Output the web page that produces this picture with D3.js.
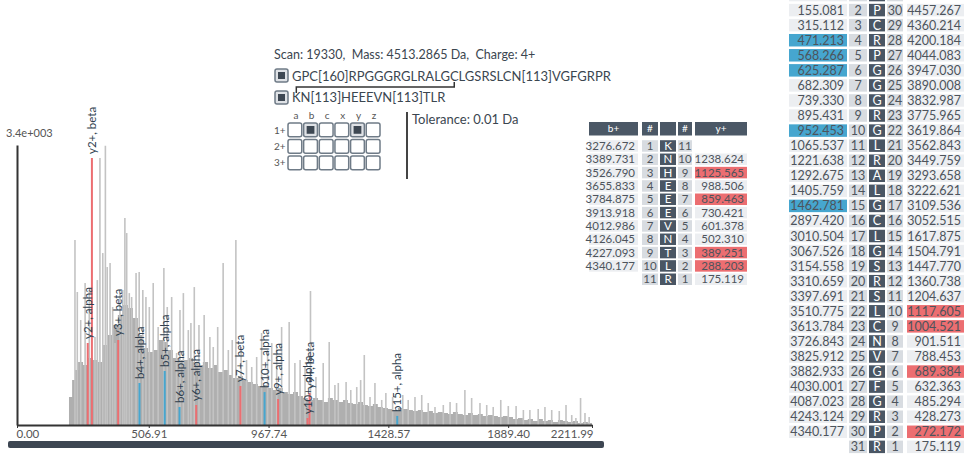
<!DOCTYPE html>
<html>
<head>
<meta charset="utf-8">
<script src="https://cdn.jsdelivr.net/npm/d3@7.9.0/dist/d3.min.js"></script>
<style>
  body { margin: 0; background: #fff; }
  svg text { font-family: Lato, "Open Sans", sans-serif; }
</style>
</head>
<body>
<svg id="chart" width="968" height="455"></svg>
<script>
// ---- spectrum data (m/z, intensity) ----
const xTickValues = [0, 506.91, 967.74, 1428.57, 1889.40, 2211.99];
const yMaxLabel = '3.4e+003';
const yMax = 3400;

// dense base of the spectrum
const envelope = [
  [200,340],[212,546],[223,667],[235,765],[254,728],[273,813],[292,789],[312,765],[331,971],[350,1093],
  [369,1214],[388,1335],[408,1457],[427,1420],[446,1299],[465,1093],[485,935],[504,886],[523,910],[542,1032],
  [562,1008],[581,910],[600,813],[619,789],[638,789],[658,813],[677,765],[696,728],[715,765],[735,692],
  [754,728],[773,643],[792,667],[812,607],[831,571],[850,595],[869,546],[888,522],[908,498],[927,473],
  [946,486],[965,449],[985,425],[1004,449],[1023,400],[1042,376],[1062,400],[1081,352],[1100,328],[1119,304],
  [1138,328],[1158,304],[1177,279],[1196,328],[1215,304],[1235,279],[1254,304],[1273,267],[1292,255],[1312,279],
  [1331,243],[1350,231],[1369,255],[1388,219],[1408,206],[1427,194],[1446,182],[1465,206],[1485,194],[1504,182],
  [1523,170],[1542,182],[1562,158],[1581,170],[1600,146],[1619,158],[1638,146],[1658,134],[1677,158],[1696,134],
  [1715,121],[1735,146],[1754,121],[1773,134],[1792,109],[1812,121],[1831,109],[1850,97],[1869,109],[1888,97],
  [1908,73],[1927,85],[1946,61],[1965,73],[1985,49],[2004,73],[2023,49],[2042,61],[2062,36],[2081,61],
  [2100,49],[2119,36],[2138,49],[2158,24],[2177,36],[2196,24],[2212,0]
];

// unassigned peaks standing out of the base
const peaks = [
  [223,2246],[232,1615],[245,1275],[262,1724],[278,1639],[300,1068],[309,1760],[319,3241],[330,2088],[340,3390],
  [347,1918],[358,1967],[368,1433],[377,995],[396,1602],[407,1639],[415,2513],[422,2331],[432,1602],[441,1554],
  [458,1845],[470,1857],[484,1639],[496,1554],[509,1433],[524,1724],[543,1190],[565,1906],[578,1433],[595,1554],
  [614,874],[627,1396],[640,1602],[659,1153],[669,1238],[682,1675],[700,1214],[720,1335],[742,1068],[755,947],
  [772,1190],[793,1967],[813,911],[828,1032],[842,2246],[862,947],[883,789],[903,704],[922,826],[941,1117],
  [964,911],[980,995],[999,947],[1018,1190],[1047,1250],[1069,753],[1089,789],[1108,704],[1129,1627],[1150,583],
  [1178,753],[1201,1008],[1223,486],[1236,510],[1266,522],[1284,425],[1307,461],[1322,546],[1336,850],[1358,340],
  [1377,510],[1403,304],[1419,388],[1445,340],[1484,364],[1505,304],[1531,340],[1557,364],[1582,267],[1608,219],
  [1640,243],[1666,279],[1691,267],[1723,425],[1749,328],[1781,267],[1807,243],[1832,219],[1861,304],[1890,231],
  [1920,231],[1948,182],[1973,182],[2005,194],[2031,219],[2057,182],[2086,170],[2112,243],[2134,121],[2150,85],
  [2168,328],[2185,146],[2201,97]
];

// matched fragment ions
const ionLabels = ['y2+, alpha','y2+, beta','y3+, beta','b4+, alpha','b5+, alpha','b6+, alpha','y6+, alpha',
                   'y7+, beta','b10+, alpha','y9+, alpha','y10+, alpha','y9+, beta','b15+, alpha'];
const ionMz  = [272.172, 288.203, 389.251, 471.213, 568.266, 625.287, 689.384, 859.463, 952.453, 1004.521, 1117.605, 1125.565, 1462.781];
const ionInt = [996, 3242, 1032, 510, 656, 219, 243, 474, 400, 316, 85, 389, 110];

// ---- header text ----
const scanInfo = 'Scan: 19330,  Mass: 4513.2865 Da,  Charge: 4+';
const alphaPeptide = 'GPC[160]RPGGGRGLRALGCLGSRSLCN[113]VGFGRPR';
const betaPeptide = 'KN[113]HEEEVN[113]TLR';
const ionTypes = ['a', 'b', 'c', 'x', 'y', 'z'];
const ionCharges = ['1+', '2+', '3+'];
const selectedIons = ['1+b', '1+y'];
const toleranceText = 'Tolerance: 0.01 Da';

// ---- fragment tables ----
const betaSeq = 'KNHEEEVNTLR'.split('');
const betaB = [3276.672, 3389.731, 3526.790, 3655.833, 3784.875, 3913.918, 4012.986, 4126.045, 4227.093, 4340.177, null];
const betaY = [null, 1238.624, 1125.565, 988.506, 859.463, 730.421, 601.378, 502.310, 389.251, 288.203, 175.119];
const betaBHits = [];
const betaYHits = [9, 7, 3, 2];

const alphaSeq = 'GPCRPGGGRGLRALGCLGSRSLCNVGFGRPR'.split('');
const alphaB = [58.029, 155.081, 315.112, 471.213, 568.266, 625.287, 682.309, 739.330, 895.431, 952.453,
                1065.537, 1221.638, 1292.675, 1405.759, 1462.781, 2897.420, 3010.504, 3067.526, 3154.558, 3310.659,
                3397.691, 3510.775, 3613.784, 3726.843, 3825.912, 3882.933, 4030.001, 4087.023, 4243.124, 4340.177, null];
const alphaY = [null, 4457.267, 4360.214, 4200.184, 4044.083, 3947.030, 3890.008, 3832.987, 3775.965, 3619.864,
                3562.843, 3449.759, 3293.658, 3222.621, 3109.536, 3052.515, 1617.875, 1504.791, 1447.770, 1360.738,
                1204.637, 1117.605, 1004.521, 901.511, 788.453, 689.384, 632.363, 485.294, 428.273, 272.172, 175.119];
const alphaBHits = [4, 5, 6, 10, 15];
const alphaYHits = [10, 9, 6, 2];

const svg = d3.select('#chart');
const textColor = '#3b4650';
const bColor = '#46a6cf';
const yColor = '#ec6e71';

// ================= spectrum =================
const x = d3.scaleLinear().domain([0, 2211.99]).range([17, 592]);
const y = d3.scaleLinear().domain([0, yMax]).range([425, 145]);

const spec = svg.append('g').attr('class', 'spectrum');

spec.append('path')
  .datum(envelope)
  .attr('fill', '#afafaf')
  .attr('d', d3.area().curve(d3.curveStepAfter)
    .x(d => x(d[0])).y0(y(0)).y1(d => y(d[1])));

spec.append('g')
  .selectAll('line')
  .data(peaks)
  .join('line')
  .attr('x1', d => x(d[0])).attr('x2', d => x(d[0]))
  .attr('y1', y(0)).attr('y2', d => y(d[1]))
  .attr('stroke', '#c3c3c3')
  .attr('stroke-width', 1.6);

const ions = ionLabels.map((label, i) => ({ label, mz: ionMz[i], int: ionInt[i] }));

spec.append('g')
  .selectAll('line')
  .data(ions)
  .join('line')
  .attr('x1', d => x(d.mz)).attr('x2', d => x(d.mz))
  .attr('y1', y(0)).attr('y2', d => y(d.int))
  .attr('stroke', d => d.label.startsWith('b') ? bColor : yColor)
  .attr('stroke-width', 2);

spec.append('g')
  .selectAll('text')
  .data(ions)
  .join('text')
  .attr('transform', d => `translate(${x(d.mz)},${y(d.int) - 4}) rotate(-90)`)
  .attr('dy', '0.35em')
  .attr('font-size', 11.5)
  .attr('fill', '#2e3e4e')
  .text(d => d.label);

// axes
const xAxis = spec.append('g')
  .attr('transform', `translate(0,${y(0)})`)
  .call(d3.axisBottom(x).tickValues(xTickValues).tickFormat(d3.format('.2f'))
    .tickSize(3).tickSizeOuter(0).tickPadding(2));
xAxis.select('.domain').attr('stroke', '#333').attr('stroke-width', 2);
xAxis.selectAll('.tick line').attr('stroke', '#333');
xAxis.selectAll('.tick text').attr('font-size', 11.5).attr('fill', '#555');
xAxis.selectAll('.tick text').filter((d, i) => i === 0).attr('text-anchor', 'start').attr('x', -1);
xAxis.selectAll('.tick text').filter((d, i) => i === xTickValues.length - 1).attr('text-anchor', 'end').attr('x', 1);

const yAxis = spec.append('g')
  .attr('transform', `translate(${x(0)},0)`)
  .call(d3.axisLeft(y).tickValues([]).tickSizeOuter(0));
yAxis.select('.domain').attr('stroke', '#333').attr('stroke-width', 2);

spec.append('text')
  .attr('x', 6).attr('y', 137)
  .attr('font-size', 11).attr('fill', '#555')
  .text(yMaxLabel);

// range slider bar under the spectrum
spec.append('rect')
  .attr('x', 8).attr('y', 441).attr('width', 596).attr('height', 7)
  .attr('rx', 2).attr('fill', '#3d4652');

// ================= header =================
const head = svg.append('g').attr('class', 'header').attr('fill', textColor);

head.append('text')
  .attr('x', 274).attr('y', 59)
  .attr('font-size', 12.5)
  .style('white-space', 'pre')
  .text(scanInfo);

function checkbox(g, x0, y0, size, checked) {
  g.append('rect')
    .attr('x', x0).attr('y', y0).attr('width', size).attr('height', size)
    .attr('rx', 2)
    .attr('fill', checked ? '#dfe2e6' : '#fff')
    .attr('stroke', '#6f7b87').attr('stroke-width', 1.5);
  if (checked) {
    g.append('rect')
      .attr('x', x0 + 3).attr('y', y0 + 3).attr('width', size - 6).attr('height', size - 6)
      .attr('fill', '#3e4853');
  }
}

checkbox(head, 275, 69, 13, true);
checkbox(head, 275, 91, 13, true);

const alphaText = head.append('text')
  .attr('x', 292).attr('y', 81)
  .attr('font-size', 13)
  .text(alphaPeptide);
const betaText = head.append('text')
  .attr('x', 292).attr('y', 102)
  .attr('font-size', 13)
  .text(betaPeptide);

// crosslink bracket: alpha C16 -> beta K1
const cIdx = alphaPeptide.indexOf('C', alphaPeptide.indexOf('LG'));
const cBox = alphaText.node().getExtentOfChar(cIdx);
const kBox = betaText.node().getExtentOfChar(0);
const cx = cBox.x + cBox.width / 2;
const kx = kBox.x + kBox.width / 2;
head.append('path')
  .attr('d', `M${kx},93 V87 H${cx} V82`)
  .attr('fill', 'none')
  .attr('stroke', '#333')
  .attr('stroke-width', 1.5);

// ion type grid
const gridX = d3.scaleBand().domain(ionTypes).range([288, 380]).paddingInner(0.12);
const gridY = d3.scaleBand().domain(ionCharges).range([123, 170]).paddingInner(0.15);
const grid = head.append('g');
grid.selectAll('text.col')
  .data(ionTypes)
  .join('text')
  .attr('class', 'col')
  .attr('x', d => gridX(d) + gridX.bandwidth() / 2 + 1)
  .attr('y', 119)
  .attr('text-anchor', 'middle')
  .attr('font-size', 10)
  .attr('fill', '#555')
  .text(d => d);
grid.selectAll('text.row')
  .data(ionCharges)
  .join('text')
  .attr('class', 'row')
  .attr('x', 274)
  .attr('y', d => gridY(d) + gridY.bandwidth() / 2 + 3.5)
  .attr('font-size', 10)
  .attr('fill', '#555')
  .text(d => d);
ionCharges.forEach(c => {
  ionTypes.forEach(t => {
    checkbox(grid, gridX(t), gridY(c), gridX.bandwidth(), selectedIons.includes(c + t));
  });
});

head.append('line')
  .attr('x1', 407).attr('x2', 407).attr('y1', 112).attr('y2', 179)
  .attr('stroke', '#444').attr('stroke-width', 2);

head.append('text')
  .attr('x', 412).attr('y', 124)
  .attr('font-size', 13)
  .text(toleranceText);

// ================= fragment tables =================
function drawTable(seq, bVals, yVals, bHits, yHits, L) {
  const n = seq.length;
  const g = svg.append('g').attr('font-size', L.font);
  const rowY = i => L.top + i * L.pitch;
  const fmt = d3.format('.3f');
  const cols = L.cols;

  if (L.header) {
    const hy = L.header;
    const labels = ['b+', '#', '', '#', 'y+'];
    ['b', 'n1', 'res', 'n2', 'y'].forEach((k, j) => {
      g.append('rect')
        .attr('x', cols[k][0]).attr('y', hy).attr('width', cols[k][1] - cols[k][0]).attr('height', L.cellH + 2)
        .attr('fill', '#4b5866');
      g.append('text')
        .attr('x', (cols[k][0] + cols[k][1]) / 2).attr('y', hy + (L.cellH + 2) / 2)
        .attr('dy', '0.35em').attr('text-anchor', 'middle')
        .attr('font-size', 10).attr('fill', '#fff')
        .text(labels[j]);
    });
  }

  const rows = g.selectAll('g.row')
    .data(seq.map((res, i) => ({
      i, res, b: bVals[i], y: yVals[i],
      bHit: bHits.includes(i + 1), yHit: yHits.includes(n - i)
    })))
    .join('g')
    .attr('transform', d => `translate(0,${rowY(d.i)})`);

  // rows scrolled above the top edge only show their cell backgrounds
  const readable = d => rowY(d.i) >= 0;

  function cell(key, fill, textFn, anchor, textFill, filter) {
    const sel = rows.filter(filter || (() => true));
    const [x0, x1] = cols[key];
    sel.append('rect')
      .attr('x', x0).attr('y', 0).attr('width', x1 - x0).attr('height', L.cellH)
      .attr('fill', fill);
    sel.filter(readable).append('text')
      .attr('x', anchor === 'end' ? x1 - 3 : (x0 + x1) / 2)
      .attr('y', L.cellH / 2).attr('dy', '0.36em')
      .attr('text-anchor', anchor)
      .attr('fill', textFill)
      .text(textFn);
  }

  cell('b', d => d.bHit ? bColor : '#eceef1', d => fmt(d.b), 'end', '#4d545c', d => d.b != null);
  cell('n1', '#d8dce1', d => d.i + 1, 'middle', '#4d545c');
  cell('res', '#4a5664', d => d.res, 'middle', '#fff');
  cell('n2', '#d8dce1', d => n - d.i, 'middle', '#4d545c');
  cell('y', d => d.yHit ? yColor : '#eceef1', d => fmt(d.y), 'end', '#4d545c', d => d.y != null);
}

drawTable(betaSeq, betaB, betaY, betaBHits, betaYHits, {
  top: 140.2, pitch: 13.33, cellH: 11.5, font: 11.5, header: 122,
  cols: { b: [589, 638], n1: [642, 658], res: [660, 676], n2: [678, 692], y: [695, 747] }
});

drawTable(alphaSeq, alphaB, alphaY, alphaBHits, alphaYHits, {
  top: -11.2, pitch: 15.06, cellH: 12.5, font: 12.5, header: null,
  cols: { b: [789, 847], n1: [849, 867], res: [869, 885], n2: [887, 903], y: [907, 964] }
});
</script>
</body>
</html>
